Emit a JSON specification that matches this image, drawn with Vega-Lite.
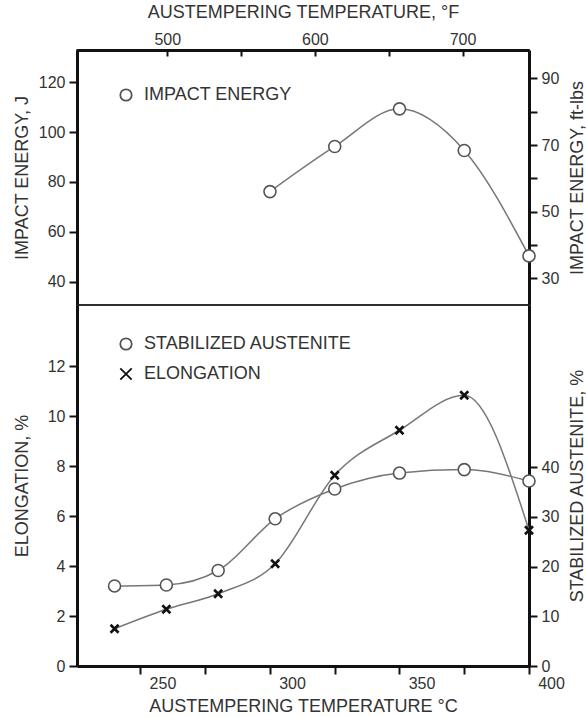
{
  "$schema": "https://vega.github.io/schema/vega-lite/v6.json",
  "padding": {"left": 12, "top": 2, "right": 0, "bottom": 0},
  "background": "white",
  "spacing": 0,
  "bounds": "flush",
  "datasets": {
    "impact": [
      {"C": 300, "F": 572, "J": 76.1, "ftlb": 56.1},
      {"C": 325, "F": 617, "J": 94.2, "ftlb": 69.5},
      {"C": 350, "F": 662, "J": 109.3, "ftlb": 80.6},
      {"C": 375, "F": 707, "J": 92.6, "ftlb": 68.3},
      {"C": 400, "F": 752, "J": 50.3, "ftlb": 37.1}
    ],
    "bottom": [
      {"C": 240, "elongation": 1.49, "austenite": 16.1},
      {"C": 260, "elongation": 2.27, "austenite": 16.3},
      {"C": 280, "elongation": 2.89, "austenite": 19.2},
      {"C": 302, "elongation": 4.09, "austenite": 29.6},
      {"C": 325, "elongation": 7.63, "austenite": 35.6},
      {"C": 350, "elongation": 9.43, "austenite": 38.8},
      {"C": 375, "elongation": 10.83, "austenite": 39.5},
      {"C": 400, "elongation": 5.43, "austenite": 37.2}
    ]
  },
  "config": {
    "font": "Liberation Sans",
    "view": {"stroke": "#222", "strokeWidth": 1.5},
    "axis": {
      "domainColor": "#111", "domainWidth": 3,
      "tickColor": "#111", "tickWidth": 2, "tickSize": 8,
      "labelFont": "Liberation Sans", "labelFontSize": 16, "labelColor": "#333",
      "titleFont": "Liberation Sans", "titleFontSize": 18, "titleFontWeight": "normal", "titleColor": "#333",
      "grid": false, "labelFlush": false, "labelOverlap": false, "labelPadding": 4
    },
    "legend": {
      "orient": "none", "title": null, "padding": 0,
      "labelFont": "Liberation Sans", "labelFontSize": 18, "labelColor": "#333", "labelLimit": 0,
      "labelOffset": 9, "symbolSize": 130, "symbolStrokeWidth": 1.8,
      "symbolFillColor": "white", "rowPadding": 10
    }
  },
  "resolve": {
    "scale": {"shape": "independent", "stroke": "independent"},
    "legend": {"shape": "independent", "stroke": "independent"}
  },
  "vconcat": [
    {
      "width": 452, "height": 255,
      "data": {"name": "impact"},
      "layer": [
        {
          "encoding": {
            "x": {"field": "C", "type": "quantitative", "scale": {"domain": [225.5, 400], "nice": false, "zero": false}, "axis": null},
            "y": {"field": "J", "type": "quantitative", "scale": {"domain": [30.6, 132.9], "nice": false, "zero": false},
                  "axis": {"orient": "left", "values": [40, 60, 80, 100, 120], "title": "IMPACT ENERGY, J", "minExtent": 40, "maxExtent": 40, "titlePadding": 6}}
          },
          "layer": [
            {"mark": {"type": "line", "interpolate": "monotone", "color": "#777", "strokeWidth": 1.5}},
            {
              "mark": {"type": "point", "filled": true, "fill": "white", "size": 144, "strokeWidth": 1.6, "opacity": 1},
              "encoding": {
                "shape": {"datum": "IMPACT ENERGY", "type": "nominal", "scale": {"domain": ["IMPACT ENERGY"], "range": ["circle"]}, "legend": {"legendX": 40, "legendY": 36}},
                "stroke": {"datum": "IMPACT ENERGY", "type": "nominal", "scale": {"domain": ["IMPACT ENERGY"], "range": ["#555"]}, "legend": {"legendX": 40, "legendY": 36}}
              }
            }
          ]
        },
        {
          "mark": {"type": "point", "opacity": 0, "clip": true},
          "encoding": {
            "x": {"field": "F", "type": "quantitative", "scale": {"domain": [438.9, 745], "nice": false, "zero": false},
                  "axis": {"orient": "top", "values": [500, 550, 600, 650, 700], "labelExpr": "datum.value % 100 == 0 ? datum.label : ''", "title": "AUSTEMPERING TEMPERATURE, °F", "tickSize": -6, "labelPadding": 9, "minExtent": 20, "maxExtent": 20, "titlePadding": 9}},
            "y": {"field": "ftlb", "type": "quantitative", "scale": {"domain": [22.0, 98.5], "nice": false, "zero": false},
                  "axis": {"orient": "right", "values": [30, 40, 50, 60, 70, 80, 90], "labelExpr": "datum.value % 20 == 10 ? datum.label : ''", "title": "IMPACT ENERGY, ft-lbs", "titleAngle": 270, "titleBaseline": "top", "minExtent": 30, "maxExtent": 30, "titlePadding": 9}}
          }
        }
      ],
      "resolve": {"scale": {"x": "independent", "y": "independent"}}
    },
    {
      "width": 452, "height": 361,
      "data": {"name": "bottom"},
      "encoding": {
        "x": {"field": "C", "type": "quantitative", "scale": {"domain": [225.5, 400], "nice": false, "zero": false},
              "axis": {"orient": "bottom", "values": [250, 275, 300, 325, 350, 375, 400], "labelExpr": "datum.value % 50 == 0 ? datum.label : ''", "labelOffset": 22, "title": "AUSTEMPERING TEMPERATURE °C", "labelPadding": 1, "minExtent": 24, "maxExtent": 24, "titlePadding": 7.5}}
      },
      "layer": [
        {
          "encoding": {
            "y": {"field": "austenite", "type": "quantitative", "scale": {"domain": [0, 72.6], "nice": false},
                  "axis": {"orient": "right", "values": [0, 10, 20, 30, 40], "title": "STABILIZED AUSTENITE, %", "titleAngle": 270, "titleBaseline": "top", "minExtent": 30, "maxExtent": 30, "titlePadding": 9}}
          },
          "layer": [
            {"mark": {"type": "line", "interpolate": "monotone", "color": "#777", "strokeWidth": 1.5}},
            {
              "mark": {"type": "point", "filled": true, "fill": "white", "size": 144, "strokeWidth": 1.6, "opacity": 1},
              "encoding": {
                "shape": {"datum": "STABILIZED AUSTENITE", "type": "nominal", "scale": {"domain": ["STABILIZED AUSTENITE", "ELONGATION"], "range": ["circle", "M-1,-1L1,1M-1,1L1,-1"]}, "legend": {"legendX": 40, "legendY": 30}},
                "stroke": {"datum": "STABILIZED AUSTENITE", "type": "nominal", "scale": {"domain": ["STABILIZED AUSTENITE", "ELONGATION"], "range": ["#555", "#111"]}, "legend": {"legendX": 40, "legendY": 30}}
              }
            }
          ]
        },
        {
          "encoding": {
            "y": {"field": "elongation", "type": "quantitative", "scale": {"domain": [0, 14.44], "nice": false},
                  "axis": {"orient": "left", "values": [0, 2, 4, 6, 8, 10, 12], "title": "ELONGATION, %", "minExtent": 40, "maxExtent": 40, "titlePadding": 6}}
          },
          "layer": [
            {"mark": {"type": "line", "interpolate": "monotone", "color": "#777", "strokeWidth": 1.5}},
            {
              "mark": {"type": "point", "filled": true, "fill": "white", "size": 64, "strokeWidth": 2.6, "opacity": 1},
              "encoding": {
                "shape": {"datum": "ELONGATION", "type": "nominal", "scale": {"domain": ["STABILIZED AUSTENITE", "ELONGATION"], "range": ["circle", "M-1,-1L1,1M-1,1L1,-1"]}, "legend": {"legendX": 40, "legendY": 30}},
                "stroke": {"datum": "ELONGATION", "type": "nominal", "scale": {"domain": ["STABILIZED AUSTENITE", "ELONGATION"], "range": ["#555", "#111"]}, "legend": {"legendX": 40, "legendY": 30}}
              }
            }
          ]
        }
      ],
      "resolve": {"scale": {"y": "independent"}}
    }
  ]
}
